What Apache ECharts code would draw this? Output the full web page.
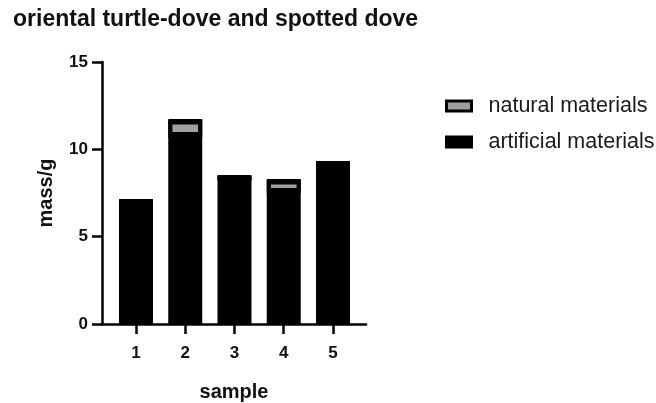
<!DOCTYPE html>
<html>
<head>
<meta charset="utf-8">
<script src="https://cdn.jsdelivr.net/npm/echarts@6/dist/echarts.min.js"></script>
<style>html,body{margin:0;padding:0;background:#fff}#c{width:656px;height:403px}</style>
</head>
<body>
<div id="c"></div>
<script>
const categories = [1, 2, 3, 4, 5];
const artificial = [7.04, 10.76, 8.41, 7.56, 9.22];
const natural = [0, 0.97, 0, 0.74, 0];
const yTicks = [0, 5, 10, 15];

const FONT = 'Liberation Sans, Arial, sans-serif';
const chart = echarts.init(document.getElementById('c'), null, {renderer: 'canvas'});
chart.setOption({
  animation: false,
  backgroundColor: '#fff',
  title: {
    text: 'oriental turtle-dove and spotted dove',
    left: 8, top: 3,
    textStyle: {fontFamily: FONT, fontSize: 23, fontWeight: 'bold', color: '#111'}
  },
  legend: {
    orient: 'vertical', left: 440, top: 90,
    itemWidth: 25, itemHeight: 10, itemGap: 14, icon: 'rect',
    textStyle: {fontFamily: FONT, fontSize: 21.5, color: '#1a1a1a', padding: [0, 0, 0, 12]},
    data: [
      {name: 'natural materials', itemStyle: {color: '#a0a0a0', borderColor: '#000', borderWidth: 3}},
      {name: 'artificial materials', itemStyle: {color: '#000', borderColor: '#000', borderWidth: 3}}
    ]
  },
  grid: {left: 102, top: 62, width: 264, height: 262, containLabel: false, outerBoundsMode: 'none'},
  xAxis: {
    type: 'value', min: 0.31, max: 5.67,
    name: 'sample', nameLocation: 'middle', nameGap: 58,
    nameTextStyle: {fontFamily: FONT, fontSize: 20, fontWeight: 'bold', color: '#111'},
    axisLine: {show: true, lineStyle: {color: '#000', width: 2.5}},
    axisTick: {show: true, length: 10, lineStyle: {color: '#000', width: 2.5}, customValues: categories},
    axisLabel: {customValues: categories, margin: 21, fontFamily: FONT, fontSize: 17, fontWeight: 'bold', color: '#111'},
    splitLine: {show: false}
  },
  yAxis: {
    type: 'value', min: 0, max: 15, interval: 5,
    name: 'mass/g', nameLocation: 'middle', nameGap: 46, nameRotate: 90,
    nameTextStyle: {fontFamily: FONT, fontSize: 20, fontWeight: 'bold', color: '#111'},
    axisLine: {show: true, lineStyle: {color: '#000', width: 2.5}},
    axisTick: {show: true, length: 10, lineStyle: {color: '#000', width: 2.5}},
    axisLabel: {margin: 14, fontFamily: FONT, fontSize: 17, fontWeight: 'bold', color: '#111',
      formatter: v => yTicks.includes(v) ? String(v) : ''},
    splitLine: {show: false}
  },
  series: [
    {
      name: 'artificial materials', type: 'bar', stack: 'm', barWidth: 34,
      encode: {x: 1, y: 0},
      itemStyle: {color: '#000', borderWidth: 0},
      data: categories.map((c, i) => [artificial[i], c])
    },
    {
      name: 'natural materials', type: 'bar', stack: 'm', barWidth: 34,
      encode: {x: 1, y: 0},
      itemStyle: {color: '#a0a0a0', borderColor: '#000', borderWidth: 4,
        shadowColor: '#000', shadowBlur: 0, shadowOffsetX: 0, shadowOffsetY: 1.5},
      data: categories.map((c, i) => [natural[i], c])
    }
  ]
});
</script>
</body>
</html>
